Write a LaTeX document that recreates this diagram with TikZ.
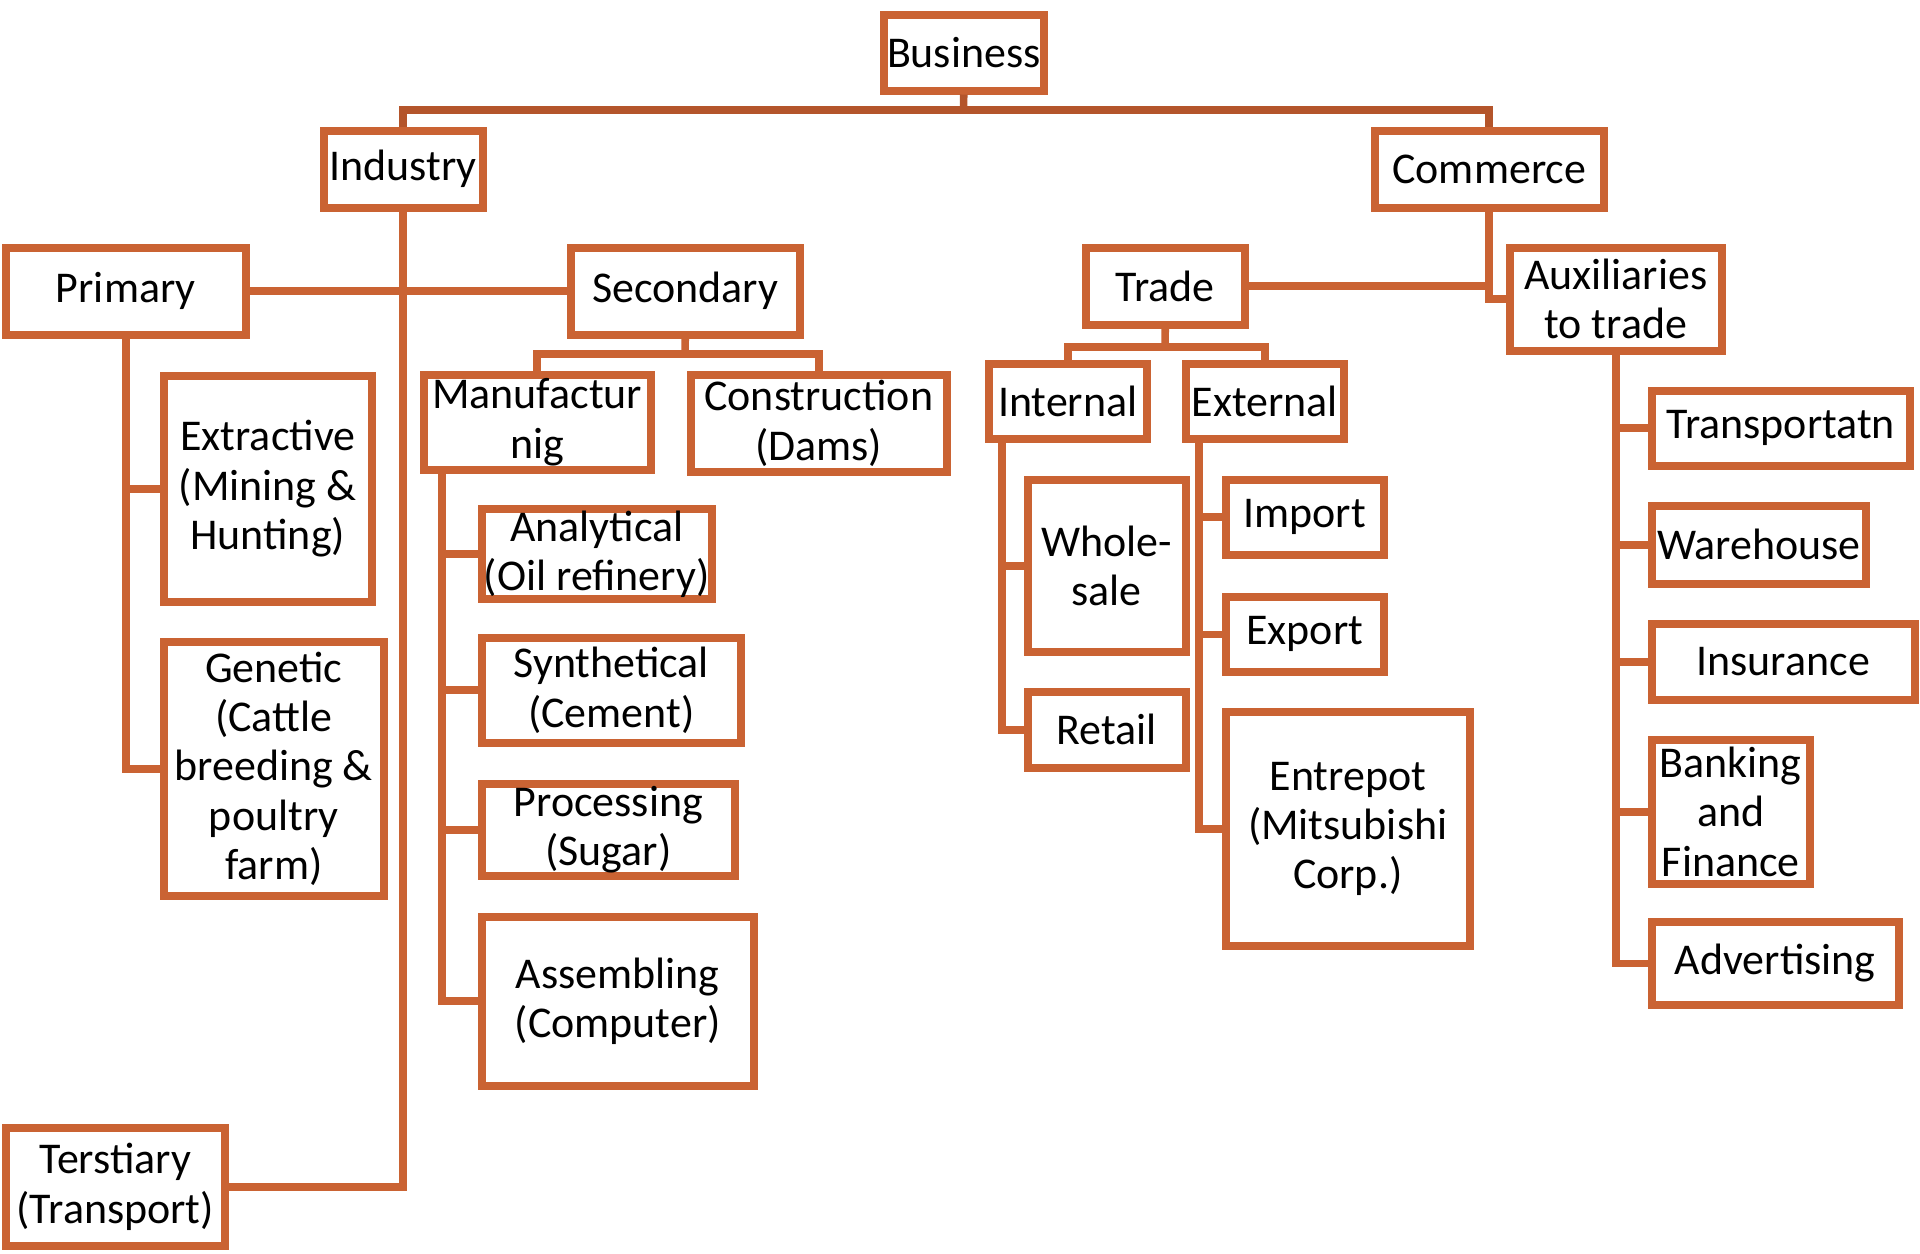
\documentclass[tikz,border=0pt]{standalone}
\usepackage{fontspec}
\setmainfont{Carlito}
\definecolor{BizOrange}{HTML}{CA6333}
\definecolor{BizBrown}{HTML}{B4552B}
\usepackage{tikz}

\tikzset{
  box/.style={draw=BizOrange, line width=4.3pt, anchor=north west, align=center,
    inner sep=1pt, font=\fontsize{25}{28}\selectfont},
  link/.style={draw=BizOrange, line width=4.3pt},
  toplink/.style={draw=BizBrown, line width=4.3pt}
}

\begin{document}
\begin{tikzpicture}[x=0.02cm, y=-0.02cm]
  \useasboundingbox (0,0) rectangle (1920,1254);
  % top levels
  \node[box, minimum width=3.2cm, minimum height=1.52cm] (bus) at (880,11) {Business};
  \node[box, minimum width=3.18cm, minimum height=1.54cm] (ind) at (320,127) {Industry};
  \node[box, minimum width=4.58cm, minimum height=1.54cm] (com) at (1371,127) {Commerce};
  % industry side
  \node[box, minimum width=4.8cm, minimum height=1.74cm] (pri) at (2,244) {Primary};
  \node[box, minimum width=4.58cm, minimum height=1.74cm] (sec) at (567,244) {Secondary};
  \node[box, minimum width=4.16cm, minimum height=4.52cm] (extr) at (160,372) {Extractive\\(Mining \&\\Hunting)};
  \node[box, minimum width=4.4cm, minimum height=5.08cm] (gen) at (160,638) {Genetic\\(Cattle\\breeding \&\\poultry\\farm)};
  \node[box, minimum width=4.54cm, minimum height=1.9cm] (man) at (420,371) {Manufactur\\nig};
  \node[box, minimum width=5.12cm, minimum height=1.94cm] (con) at (687,371) {Construction\\(Dams)};
  \node[box, minimum width=4.6cm, minimum height=1.78cm] (ana) at (478,505) {Analytical\\(Oil refinery)};
  \node[box, minimum width=5.18cm, minimum height=2.1cm] (syn) at (478,634) {Synthetical\\(Cement)};
  \node[box, minimum width=5.06cm, minimum height=1.84cm] (pro) at (478,780) {Processing\\(Sugar)};
  \node[box, minimum width=5.44cm, minimum height=3.38cm] (asm) at (478,913) {Assembling\\(Computer)};
  \node[box, minimum width=4.38cm, minimum height=2.36cm] (ter) at (2,1124) {Terstiary\\(Transport)};
  % commerce side
  \node[box, minimum width=3.18cm, minimum height=1.54cm] (tra) at (1082,244) {Trade};
  \node[box, minimum width=4.24cm, minimum height=2.06cm] (aux) at (1506,244) {Auxiliaries\\to trade};
  \node[box, minimum width=3.16cm, minimum height=1.5cm] (intl) at (985,360) {Internal};
  \node[box, minimum width=3.16cm, minimum height=1.5cm] (extl) at (1182,360) {External};
  \node[box, minimum width=3.16cm, minimum height=3.44cm] (whl) at (1024,476) {Whole-\\sale};
  \node[box, minimum width=3.16cm, minimum height=1.52cm] (ret) at (1024,688) {Retail};
  \node[box, minimum width=3.16cm, minimum height=1.5cm] (imp) at (1222,476) {Import};
  \node[box, minimum width=3.16cm, minimum height=1.5cm] (exp) at (1222,593) {Export};
  \node[box, minimum width=4.88cm, minimum height=4.68cm] (ent) at (1222,708) {Entrepot\\(Mitsubishi\\Corp.)};
  \node[box, minimum width=5.16cm, minimum height=1.5cm] (trn) at (1648,387) {Transportatn};
  \node[box, minimum width=4.28cm, minimum height=1.56cm] (war) at (1648,502) {Warehouse};
  \node[box, minimum width=5.26cm, minimum height=1.52cm] (ins) at (1648,620) {Insurance};
  \node[box, minimum width=3.16cm, minimum height=2.88cm] (bnk) at (1648,736) {Banking\\and\\Finance};
  \node[box, minimum width=4.94cm, minimum height=1.66cm] (adv) at (1648,918) {Advertising};

  % connectors
  \coordinate (topbar) at (963.5,110);
  \draw[toplink] (bus.south) -- (topbar);
  \draw[toplink] (ind.north) |- (topbar) -| (com.north);

  \draw[link] (ind.south) |- (ter.east);
  \draw[link] (pri.east) -- (sec.west);
  \draw[link] (pri.south) |- (extr.west);
  \draw[link] (pri.south) |- (gen.west);

  \coordinate (secbar) at (685,354);
  \draw[link] (sec.south) -- (secbar);
  \draw[link] (man.north) |- (secbar) -| (con.north);
  \coordinate (manspine) at (442,470);
  \foreach \n in {ana,syn,pro,asm}
    \draw[link] (manspine) |- (\n.west);

  \draw[link] (tra.east) -- (tra.east -| com.south);
  \draw[link] (com.south) |- (aux.west);
  \coordinate (trabar) at (1165,347);
  \draw[link] (tra.south) -- (trabar);
  \draw[link] (intl.north) |- (trabar) -| (extl.north);
  \coordinate (intspine) at (1002,439);
  \foreach \n in {whl,ret}
    \draw[link] (intspine) |- (\n.west);
  \coordinate (extspine) at (1199,439);
  \foreach \n in {imp,exp,ent}
    \draw[link] (extspine) |- (\n.west);
  \foreach \n in {trn,war,ins,bnk,adv}
    \draw[link] (aux.south) |- (\n.west);
\end{tikzpicture}
\end{document}
